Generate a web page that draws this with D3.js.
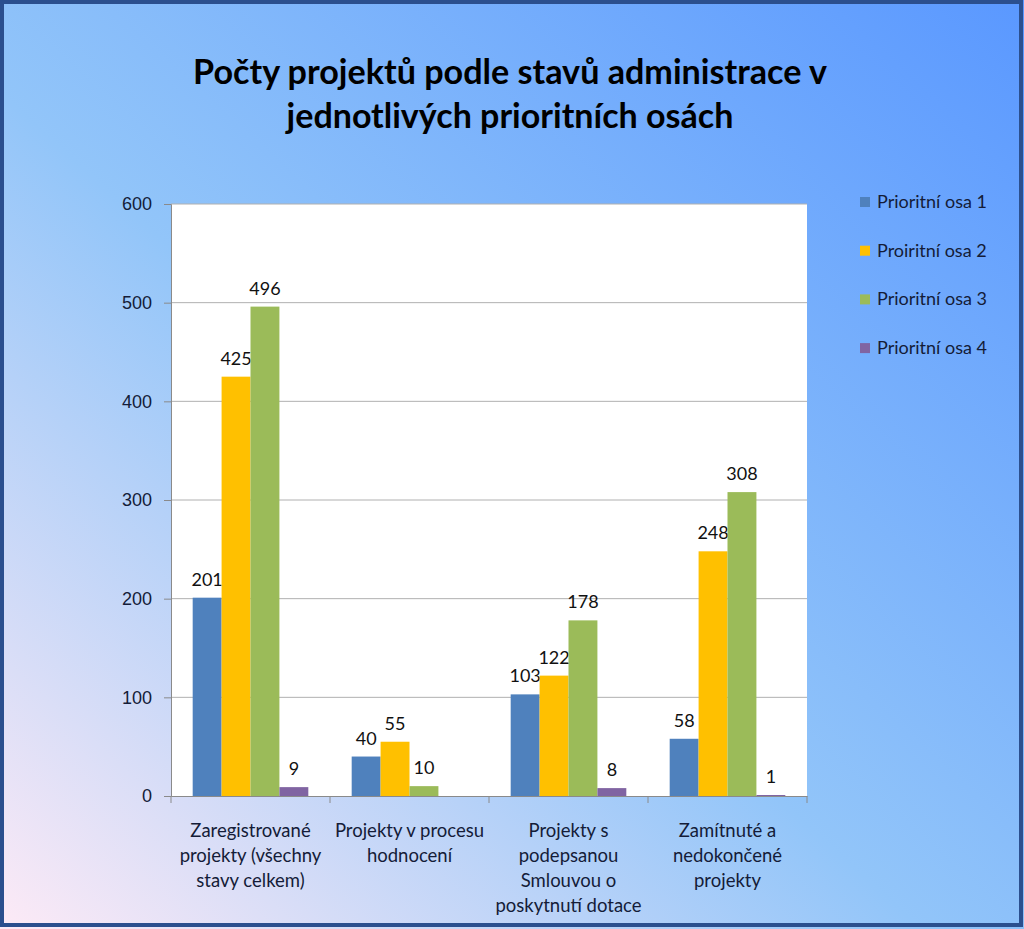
<!DOCTYPE html>
<html>
<head>
<meta charset="utf-8">
<script src="https://cdn.jsdelivr.net/npm/d3@7"></script>
<style>
  html, body { margin: 0; padding: 0; background: #fff; }
  svg { display: block; font-family: Lato, "Open Sans", sans-serif; }
</style>
</head>
<body>
<svg id="chart" width="1024" height="929"></svg>
<script>
// chart data
const categories = [
  ["Zaregistrované", "projekty (všechny", "stavy celkem)"],
  ["Projekty v procesu", "hodnocení"],
  ["Projekty s", "podepsanou", "Smlouvou o", "poskytnutí dotace"],
  ["Zamítnuté a", "nedokončené", "projekty"]
];
const seriesNames = ["Prioritní osa 1", "Proiritní osa 2", "Prioritní osa 3", "Prioritní osa 4"];
const osa1 = [201, 40, 103, 58];
const osa2 = [425, 55, 122, 248];
const osa3 = [496, 10, 178, 308];
const osa4 = [9, null, 8, 1];
const yTicks = [0, 100, 200, 300, 400, 500, 600];
const titleLines = ["Počty projektů podle stavů administrace v", "jednotlivých prioritních osách"];

const colors = ["#4f81bd", "#ffc000", "#9bbb59", "#8064a2"];
const series = [osa1, osa2, osa3, osa4];

const W = 1024, H = 929;
const margin = { top: 204, right: 217, bottom: 133, left: 171 };
const svg = d3.select("#chart");

// background gradient
const defs = svg.append("defs");
const grad = defs.append("linearGradient")
  .attr("id", "bg").attr("x1", 0).attr("y1", 1).attr("x2", 1).attr("y2", 0);
grad.append("stop").attr("offset", "0%").attr("stop-color", "#fdeaf6");
grad.append("stop").attr("offset", "45%").attr("stop-color", "#92c5f9");
grad.append("stop").attr("offset", "100%").attr("stop-color", "#5a98ff");

svg.append("rect").attr("width", W).attr("height", H).attr("fill", "url(#bg)");
svg.append("rect")
  .attr("x", 2).attr("y", 2).attr("width", W - 5).attr("height", H - 6)
  .attr("fill", "none").attr("stroke", "#2b4f8e").attr("stroke-width", 4);

// scales
const x0 = d3.scaleBand()
  .domain(d3.range(categories.length))
  .range([margin.left, W - margin.right]);
const x1 = d3.scaleBand()
  .domain(d3.range(series.length))
  .range([0, x0.bandwidth()])
  .paddingOuter(0.75);
const y = d3.scaleLinear()
  .domain([0, 600])
  .range([H - margin.bottom, margin.top]);

// plot area
svg.append("rect")
  .attr("x", margin.left).attr("y", margin.top)
  .attr("width", W - margin.right - margin.left)
  .attr("height", y(0) - margin.top)
  .attr("fill", "#fff");

// gridlines
svg.append("g")
  .selectAll("line")
  .data(yTicks.filter(d => d > 0))
  .enter().append("line")
  .attr("x1", margin.left).attr("x2", W - margin.right)
  .attr("y1", d => y(d)).attr("y2", d => y(d))
  .attr("stroke", "#b0b0b0").attr("stroke-width", 1);

// y axis
const yAxis = svg.append("g")
  .attr("transform", `translate(${margin.left},0)`)
  .call(d3.axisLeft(y).tickValues(yTicks).tickSize(7).tickPadding(12).tickFormat(d3.format("d")));
yAxis.select(".domain").attr("stroke", "#8a8a8a");
yAxis.selectAll(".tick line").attr("stroke", "#8a8a8a");
yAxis.selectAll(".tick text")
  .style("font-size", "18px").attr("fill", "#141c38");

// x axis
const xAxis = svg.append("g")
  .attr("transform", `translate(0,${y(0)})`)
  .call(d3.axisBottom(x0).tickSize(0).tickFormat(""));
xAxis.select(".domain").attr("stroke", "#8a8a8a");
xAxis.selectAll(".tick").remove();
xAxis.selectAll(".sep")
  .data(d3.range(categories.length + 1))
  .enter().append("line")
  .attr("x1", i => margin.left + i * x0.bandwidth())
  .attr("x2", i => margin.left + i * x0.bandwidth())
  .attr("y1", 0).attr("y2", 7)
  .attr("stroke", "#8a8a8a");

// category labels
const catG = svg.append("g");
categories.forEach((lines, i) => {
  const t = catG.append("text")
    .attr("text-anchor", "middle")
    .attr("fill", "#141c38")
    .style("font-size", "18.5px");
  lines.forEach((ln, j) => {
    t.append("tspan")
      .attr("x", x0(i) + x0.bandwidth() / 2)
      .attr("y", 837 + j * 25)
      .text(ln);
  });
});

// bars
series.forEach((vals, s) => {
  const g = svg.append("g");
  const pts = vals.map((v, i) => ({ v, i })).filter(d => d.v != null);
  g.selectAll("rect")
    .data(pts)
    .enter().append("rect")
    .attr("x", d => x0(d.i) + x1(s))
    .attr("width", x1.bandwidth())
    .attr("y", d => y(d.v))
    .attr("height", d => y(0) - y(d.v))
    .attr("fill", colors[s]);
  g.selectAll("text")
    .data(pts)
    .enter().append("text")
    .attr("x", d => x0(d.i) + x1(s) + x1.bandwidth() / 2)
    .attr("y", d => y(d.v) - 12)
    .attr("text-anchor", "middle")
    .attr("fill", "#111")
    .style("font-size", "18px")
    .text(d => d.v);
});

// legend
const leg = svg.append("g");
seriesNames.forEach((name, i) => {
  const cy = 202 + i * 48.7;
  leg.append("rect")
    .attr("x", 860).attr("y", cy - 5).attr("width", 10).attr("height", 10)
    .attr("fill", colors[i]);
  leg.append("text")
    .attr("x", 877).attr("y", cy + 6)
    .attr("fill", "#141c38")
    .style("font-size", "18px")
    .text(name);
});

// title
const titleTargets = [634, 447];
titleLines.forEach((ln, i) => {
  const t = svg.append("text")
    .attr("x", 510).attr("y", 84 + i * 44)
    .attr("text-anchor", "middle")
    .attr("fill", "#000")
    .style("font-weight", "bold")
    .style("font-size", "30px")
    .text(ln);
  const len = t.node().getComputedTextLength();
  t.style("font-size", (30 * titleTargets[0] / (i === 0 ? len : len * titleTargets[0] / titleTargets[1])) + "px");
});
</script>
</body>
</html>
